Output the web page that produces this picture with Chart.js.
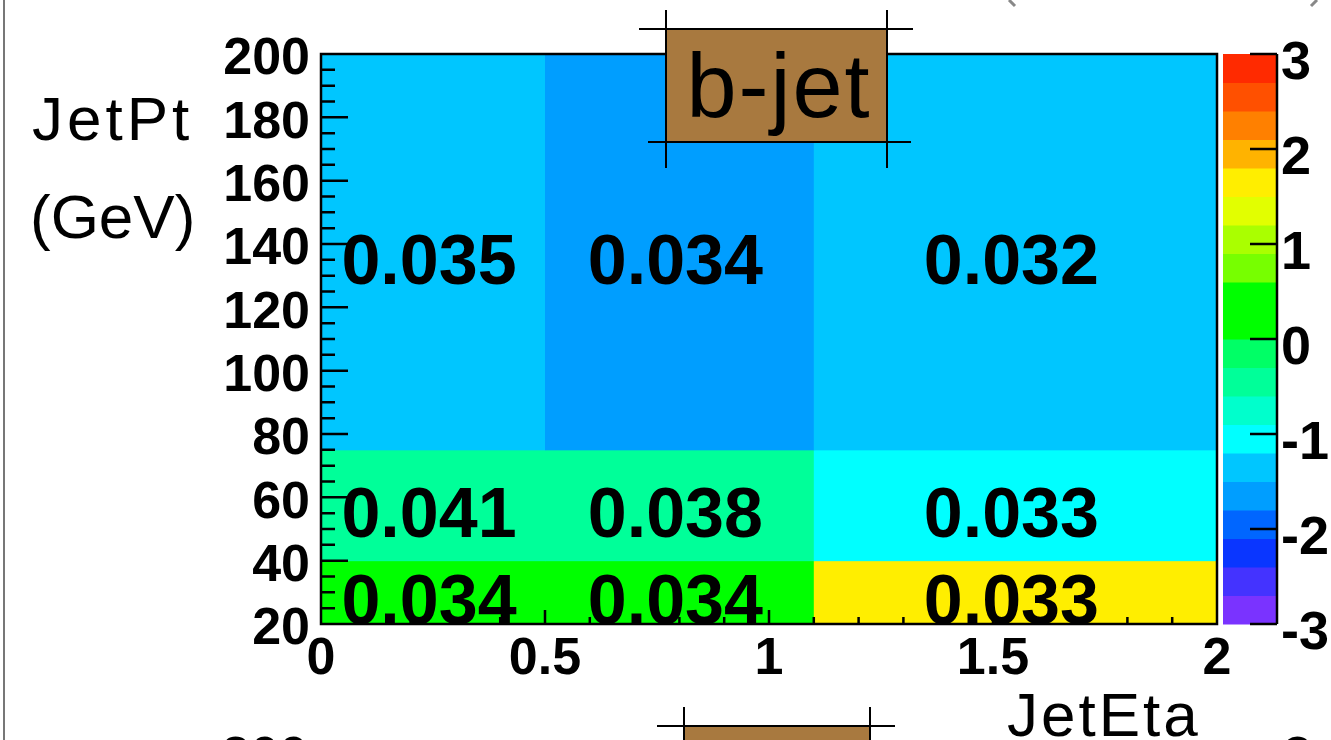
<!DOCTYPE html>
<html>
<head>
<meta charset="utf-8">
<script src="https://cdn.jsdelivr.net/npm/chart.js@4.4.0/dist/chart.umd.min.js"></script>
<style>
  html, body { margin: 0; padding: 0; background: #fff; }
  #wrap { width: 1331px; height: 740px; position: relative; }
</style>
</head>
<body>
<div id="wrap"><canvas id="effChart"></canvas></div>
<script>
// bin edges of the 2D histogram
const etaEdges = [0, 0.5, 1.1, 2.0];
const ptEdges = [20, 40, 75, 200];

// numbers printed in each cell (rows: low pt -> high pt)
const cellText = [
    ["0.034", "0.034", "0.033"],
    ["0.041", "0.038", "0.033"],
    ["0.035", "0.034", "0.032"]
];
// colour value of each cell
const cellZ = [
    [0.2, 0.4, 1.6],
    [-0.45, -0.45, -1.05],
    [-1.35, -1.65, -1.35]
];

const xTicks = [0, 0.5, 1, 1.5, 2];
const yTicks = [20, 40, 60, 80, 100, 120, 140, 160, 180, 200];
const zTicks = [-3, -2, -1, 0, 1, 2, 3];
const zMin = -3, zMax = 3;

// 20 palette bands from -3 to 3
const palette = [
    "#7a33ff", "#4433ff", "#0a36ff", "#0066ff", "#009eff",
    "#00c6ff", "#00ffff", "#00ffcc", "#00ff99", "#00ff66",
    "#00ff00", "#00ff00", "#77ff00", "#aaff00", "#e2ff00",
    "#ffee00", "#ffb300", "#ff8000", "#ff5000", "#ff2a00"
];

const boldFont = (s) => `bold ${s}px "Liberation Sans", Arial, sans-serif`;
const thinFont = (s) => `${s}px "Liberation Sans", Arial, sans-serif`;

function colorFor(v) {
    const bw = (zMax - zMin) / palette.length;
    let i = Math.floor((v - zMin) / bw);
    i = Math.max(0, Math.min(palette.length - 1, i));
    return palette[i];
}

function titleBox(ctx, l, r, t, b, lineTop, hl, hr, hl2, hr2, vBot) {
    ctx.fillStyle = "#a8793f";
    ctx.fillRect(l, t, r - l, b - t);
    ctx.strokeStyle = "#000";
    ctx.lineWidth = 2;
    ctx.strokeRect(l, t, r - l, b - t);
    ctx.beginPath();
    ctx.moveTo(hl, t); ctx.lineTo(hr, t);
    ctx.moveTo(hl2, b); ctx.lineTo(hr2, b);
    ctx.moveTo(l, lineTop); ctx.lineTo(l, vBot);
    ctx.moveTo(r, lineTop); ctx.lineTo(r, vBot);
    ctx.stroke();
}

const heatmap = {
    id: "heatmap",
    beforeDatasetsDraw(chart) {
        const { ctx, chartArea: a, scales: { x, y, z } } = chart;
        ctx.save();
        // cells
        for (let r = 0; r < cellZ.length; r++) {
            for (let c = 0; c < cellZ[r].length; c++) {
                const x0 = x.getPixelForValue(etaEdges[c]);
                const x1 = x.getPixelForValue(etaEdges[c + 1]);
                const y0 = y.getPixelForValue(ptEdges[r + 1]);
                const y1 = y.getPixelForValue(ptEdges[r]);
                ctx.fillStyle = colorFor(cellZ[r][c]);
                ctx.fillRect(x0, y0, x1 - x0 + 0.5, y1 - y0 + 0.5);
            }
        }
        // palette bar
        const bw = (zMax - zMin) / palette.length;
        palette.forEach((col, i) => {
            const top = z.getPixelForValue(zMin + (i + 1) * bw);
            const bot = z.getPixelForValue(zMin + i * bw);
            ctx.fillStyle = col;
            ctx.fillRect(a.right + 6, top, 54, bot - top + 0.5);
        });
        ctx.restore();
    },
    afterDatasetsDraw(chart) {
        const { ctx, chartArea: a, scales: { x, y, z } } = chart;
        ctx.save();

        // cell numbers
        ctx.fillStyle = "#000";
        ctx.font = boldFont(70);
        ctx.textAlign = "center";
        ctx.textBaseline = "alphabetic";
        for (let r = 0; r < cellText.length; r++) {
            for (let c = 0; c < cellText[r].length; c++) {
                const cx = x.getPixelForValue((etaEdges[c] + etaEdges[c + 1]) / 2) - 4;
                const cy = y.getPixelForValue((ptEdges[r] + ptEdges[r + 1]) / 2) + 32;
                ctx.fillText(cellText[r][c], cx, cy);
            }
        }

        // inner tick marks
        ctx.strokeStyle = "#000";
        ctx.lineWidth = 2.5;
        ctx.beginPath();
        for (let i = 1; i < 20; i++) {
            const px = x.getPixelForValue(i / 10);
            const len = i % 5 === 0 ? 14 : 7;
            ctx.moveTo(px, a.bottom); ctx.lineTo(px, a.bottom - len);
        }
        for (let v = 25; v < 200; v += 5) {
            const py = y.getPixelForValue(v);
            const len = v % 20 === 0 ? 27 : 14;
            ctx.moveTo(a.left, py); ctx.lineTo(a.left + len, py);
        }
        ctx.stroke();

        // frame
        ctx.lineWidth = 2.5;
        ctx.strokeRect(a.left, a.top, a.right - a.left, a.bottom - a.top);

        // palette axis
        const zr = a.right + 60;
        ctx.beginPath();
        ctx.moveTo(zr, z.getPixelForValue(zMax));
        ctx.lineTo(zr, z.getPixelForValue(zMin));
        zTicks.forEach(t => {
            const py = z.getPixelForValue(t);
            ctx.moveTo(zr, py); ctx.lineTo(zr - 27, py);
        });
        ctx.stroke();

        // title box
        titleBox(ctx, 666, 887, 29, 142, 10, 639, 913, 648, 911, 168);
        ctx.fillStyle = "#000";
        ctx.font = thinFont(90);
        ctx.textAlign = "center";
        ctx.letterSpacing = "2px";
        ctx.fillText("b-jet", 779, 117);

        // axis titles
        ctx.textAlign = "left";
        ctx.font = thinFont(62);
        ctx.letterSpacing = "4px";
        ctx.fillText("JetPt", 32, 140);
        ctx.letterSpacing = "0px";
        ctx.fillText("(GeV)", 30, 238);
        ctx.letterSpacing = "3px";
        ctx.fillText("JetEta", 1007, 736);
        ctx.letterSpacing = "0px";

        // pad border and neighbouring pads
        ctx.strokeStyle = "#777";
        ctx.lineWidth = 2;
        ctx.beginPath();
        ctx.moveTo(4, 0); ctx.lineTo(4, 740);
        ctx.stroke();
        ctx.strokeStyle = "#888";
        ctx.lineWidth = 3;
        ctx.beginPath();
        ctx.moveTo(1009, 0); ctx.lineTo(1015, 6);
        ctx.moveTo(1317, 0); ctx.lineTo(1311, 6);
        ctx.stroke();

        titleBox(ctx, 684, 870, 726, 760, 707, 657, 895, 657, 895, 760);
        ctx.fillStyle = "#000";
        ctx.font = boldFont(52);
        ctx.textAlign = "right";
        ctx.fillText("200", 308, 773);
        ctx.textAlign = "left";
        ctx.fillText("3", 1283, 773);

        ctx.restore();
    }
};

const ctx = document.getElementById("effChart").getContext("2d");

new Chart(ctx, {
    type: "scatter",
    data: { datasets: [] },
    options: {
        responsive: true,
        maintainAspectRatio: false,
        animation: false,
        events: [],
        layout: { padding: { top: 54, left: 0, right: 0, bottom: 0 } },
        plugins: { legend: { display: false }, tooltip: { enabled: false } },
        scales: {
            x: {
                type: "linear", min: 0, max: 2,
                afterBuildTicks: s => { s.ticks = xTicks.map(v => ({ value: v })); },
                afterFit: s => { s.height = 116; },
                grid: { display: false, drawTicks: false },
                border: { display: false },
                ticks: {
                    autoSkip: false, maxRotation: 0, padding: 4, color: "#000",
                    font: { family: "Liberation Sans", size: 52, weight: "bold" },
                    callback: v => String(v)
                }
            },
            y: {
                type: "linear", min: 20, max: 200,
                afterBuildTicks: s => { s.ticks = yTicks.map(v => ({ value: v })); },
                afterFit: s => { s.width = 321; },
                grid: { display: false, drawTicks: false },
                border: { display: false },
                ticks: {
                    autoSkip: false, padding: 11, labelOffset: 6, color: "#000",
                    font: { family: "Liberation Sans", size: 52, weight: "bold" },
                    callback: v => String(v)
                }
            },
            z: {
                type: "linear", axis: "y", position: "right", min: zMin, max: zMax,
                afterBuildTicks: s => { s.ticks = zTicks.map(v => ({ value: v })); },
                afterFit: s => { s.width = 114; },
                grid: {
                    display: true, drawOnChartArea: false, drawTicks: true,
                    tickLength: 62, color: "rgba(0,0,0,0)"
                },
                border: { display: false },
                ticks: {
                    autoSkip: false, padding: 2, labelOffset: 10, color: "#000",
                    font: { family: "Liberation Sans", size: 54, weight: "bold" },
                    callback: v => String(v)
                }
            }
        }
    },
    plugins: [heatmap]
});
</script>
</body>
</html>
